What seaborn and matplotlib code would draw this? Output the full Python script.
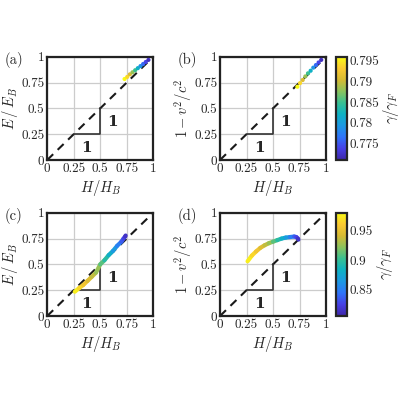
import numpy as np
import matplotlib
matplotlib.use("Agg")
import matplotlib.pyplot as plt
import seaborn as sns
from matplotlib.colors import LinearSegmentedColormap, Normalize
from matplotlib.collections import LineCollection

sns.set_theme(style="white")
plt.rcParams['font.family'] = ['cmr10', 'DejaVu Serif']
plt.rcParams['mathtext.fontset'] = 'cm'
plt.rcParams['axes.formatter.use_mathtext'] = True

parula = LinearSegmentedColormap.from_list("parula", [
    "#3e26a8", "#4740e5", "#2f74f9", "#1c98e3", "#0eb2c4",
    "#38c093", "#8bc35c", "#d6ba33", "#fbc931", "#f9fb15"])

# panel (a)/(b) data
ab_h = [0.73, 0.755, 0.78, 0.805, 0.83, 0.855, 0.88, 0.905, 0.93, 0.955]
a_e = [0.785, 0.805, 0.83, 0.85, 0.87, 0.89, 0.91, 0.93, 0.95, 0.97]
b_v = [0.71, 0.745, 0.775, 0.81, 0.84, 0.865, 0.895, 0.92, 0.945, 0.97]
ab_g = [0.796, 0.794, 0.791, 0.788, 0.785, 0.782, 0.779, 0.776, 0.774, 0.772]

# panel (c)/(d) data
cd_h = [0.26, 0.30, 0.34, 0.38, 0.42, 0.46, 0.50, 0.54, 0.58, 0.62, 0.66, 0.70, 0.72, 0.735, 0.74]
c_e = [0.235, 0.27, 0.30, 0.34, 0.38, 0.42, 0.50, 0.54, 0.59, 0.63, 0.68, 0.72, 0.75, 0.77, 0.78]
d_v = [0.53, 0.585, 0.625, 0.66, 0.685, 0.705, 0.72, 0.735, 0.75, 0.76, 0.765, 0.77, 0.765, 0.75, 0.74]
cd_g = [0.975, 0.965, 0.955, 0.945, 0.935, 0.925, 0.91, 0.895, 0.88, 0.865, 0.85, 0.835, 0.825, 0.815, 0.81]

fig = plt.figure(figsize=(4, 4), dpi=100)
pos = {'a': [0.118, 0.60, 0.265, 0.258], 'b': [0.55, 0.60, 0.265, 0.258],
       'c': [0.118, 0.21, 0.265, 0.258], 'd': [0.55, 0.21, 0.265, 0.258]}
ticks = [0, 0.25, 0.5, 0.75, 1]
tl = ['0', '0.25', '0.5', '0.75', '1']

def base(ax, label, ylabel):
    ax.set_xlim(0, 1); ax.set_ylim(0, 1)
    ax.set_xticks(ticks); ax.set_yticks(ticks)
    ax.set_xticklabels(tl, fontsize=9.5); ax.set_yticklabels(tl, fontsize=9.5)
    ax.grid(True, color='#cccccc', lw=0.9)
    for s in ax.spines.values():
        s.set_linewidth(1.6); s.set_color('#222222')
    ax.tick_params(direction='in', length=2, pad=2)
    ax.plot([0, 1], [0, 1], 'k--', lw=1.5, dashes=(4, 3), zorder=2)
    ax.plot([0.25, 0.5, 0.5], [0.25, 0.25, 0.5], color='#333333', lw=1.2, zorder=2)
    ax.text(0.62, 0.37, '1', fontsize=11, ha='center', va='center',
            family='DejaVu Serif', fontweight='bold')
    ax.text(0.375, 0.12, '1', fontsize=11, ha='center', va='center',
            family='DejaVu Serif', fontweight='bold')
    ax.set_xlabel(r'$H/H_B$', fontsize=10.5, labelpad=2)
    ax.set_ylabel(ylabel, fontsize=10.5, labelpad=0)
    ax.text(-0.4, 0.97, label, transform=ax.transAxes, fontsize=10.5, va='center')

ylE = r'$\overline{E}\,/\,\overline{E}_B$'
ylV = r'$1-v^2/c^2$'

norm1 = Normalize(0.771, 0.796)
for k, yv, lab, yl in [('a', a_e, '(a)', ylE), ('b', b_v, '(b)', ylV)]:
    ax = fig.add_axes(pos[k]); base(ax, lab, yl)
    sc = ax.scatter(ab_h, yv, c=ab_g, cmap=parula, norm=norm1, s=9, zorder=3, linewidths=0)
cax = fig.add_axes([0.84, 0.60, 0.028, 0.258])
cb = fig.colorbar(sc, cax=cax, ticks=[0.775, 0.78, 0.785, 0.79, 0.795])
cb.ax.set_yticklabels(['0.775', '0.78', '0.785', '0.79', '0.795'], fontsize=9.5)
cb.outline.set_linewidth(1.6)
cb.ax.tick_params(direction='in', length=2, pad=2)
cb.set_label(r'$\gamma/\gamma_F$', fontsize=10.5, labelpad=1)

norm2 = Normalize(0.805, 0.98)
for k, yv, lab, yl in [('c', c_e, '(c)', ylE), ('d', d_v, '(d)', ylV)]:
    ax = fig.add_axes(pos[k]); base(ax, lab, yl)
    pts = np.column_stack([cd_h, yv]).reshape(-1, 1, 2)
    segs = np.concatenate([pts[:-1], pts[1:]], axis=1)
    lc = LineCollection(segs, cmap=parula, norm=norm2, linewidths=3, zorder=3, capstyle='round')
    lc.set_array(np.array(cd_g[:-1]))
    ax.add_collection(lc)
cax2 = fig.add_axes([0.84, 0.21, 0.028, 0.258])
cb2 = fig.colorbar(lc, cax=cax2, ticks=[0.85, 0.9, 0.95])
cb2.ax.set_yticklabels(['0.85', '0.9', '0.95'], fontsize=9.5)
cb2.outline.set_linewidth(1.6)
cb2.ax.tick_params(direction='in', length=2, pad=2)
cb2.set_label(r'$\gamma/\gamma_F$', fontsize=10.5, labelpad=1)

fig.savefig('out.png', dpi=100)
